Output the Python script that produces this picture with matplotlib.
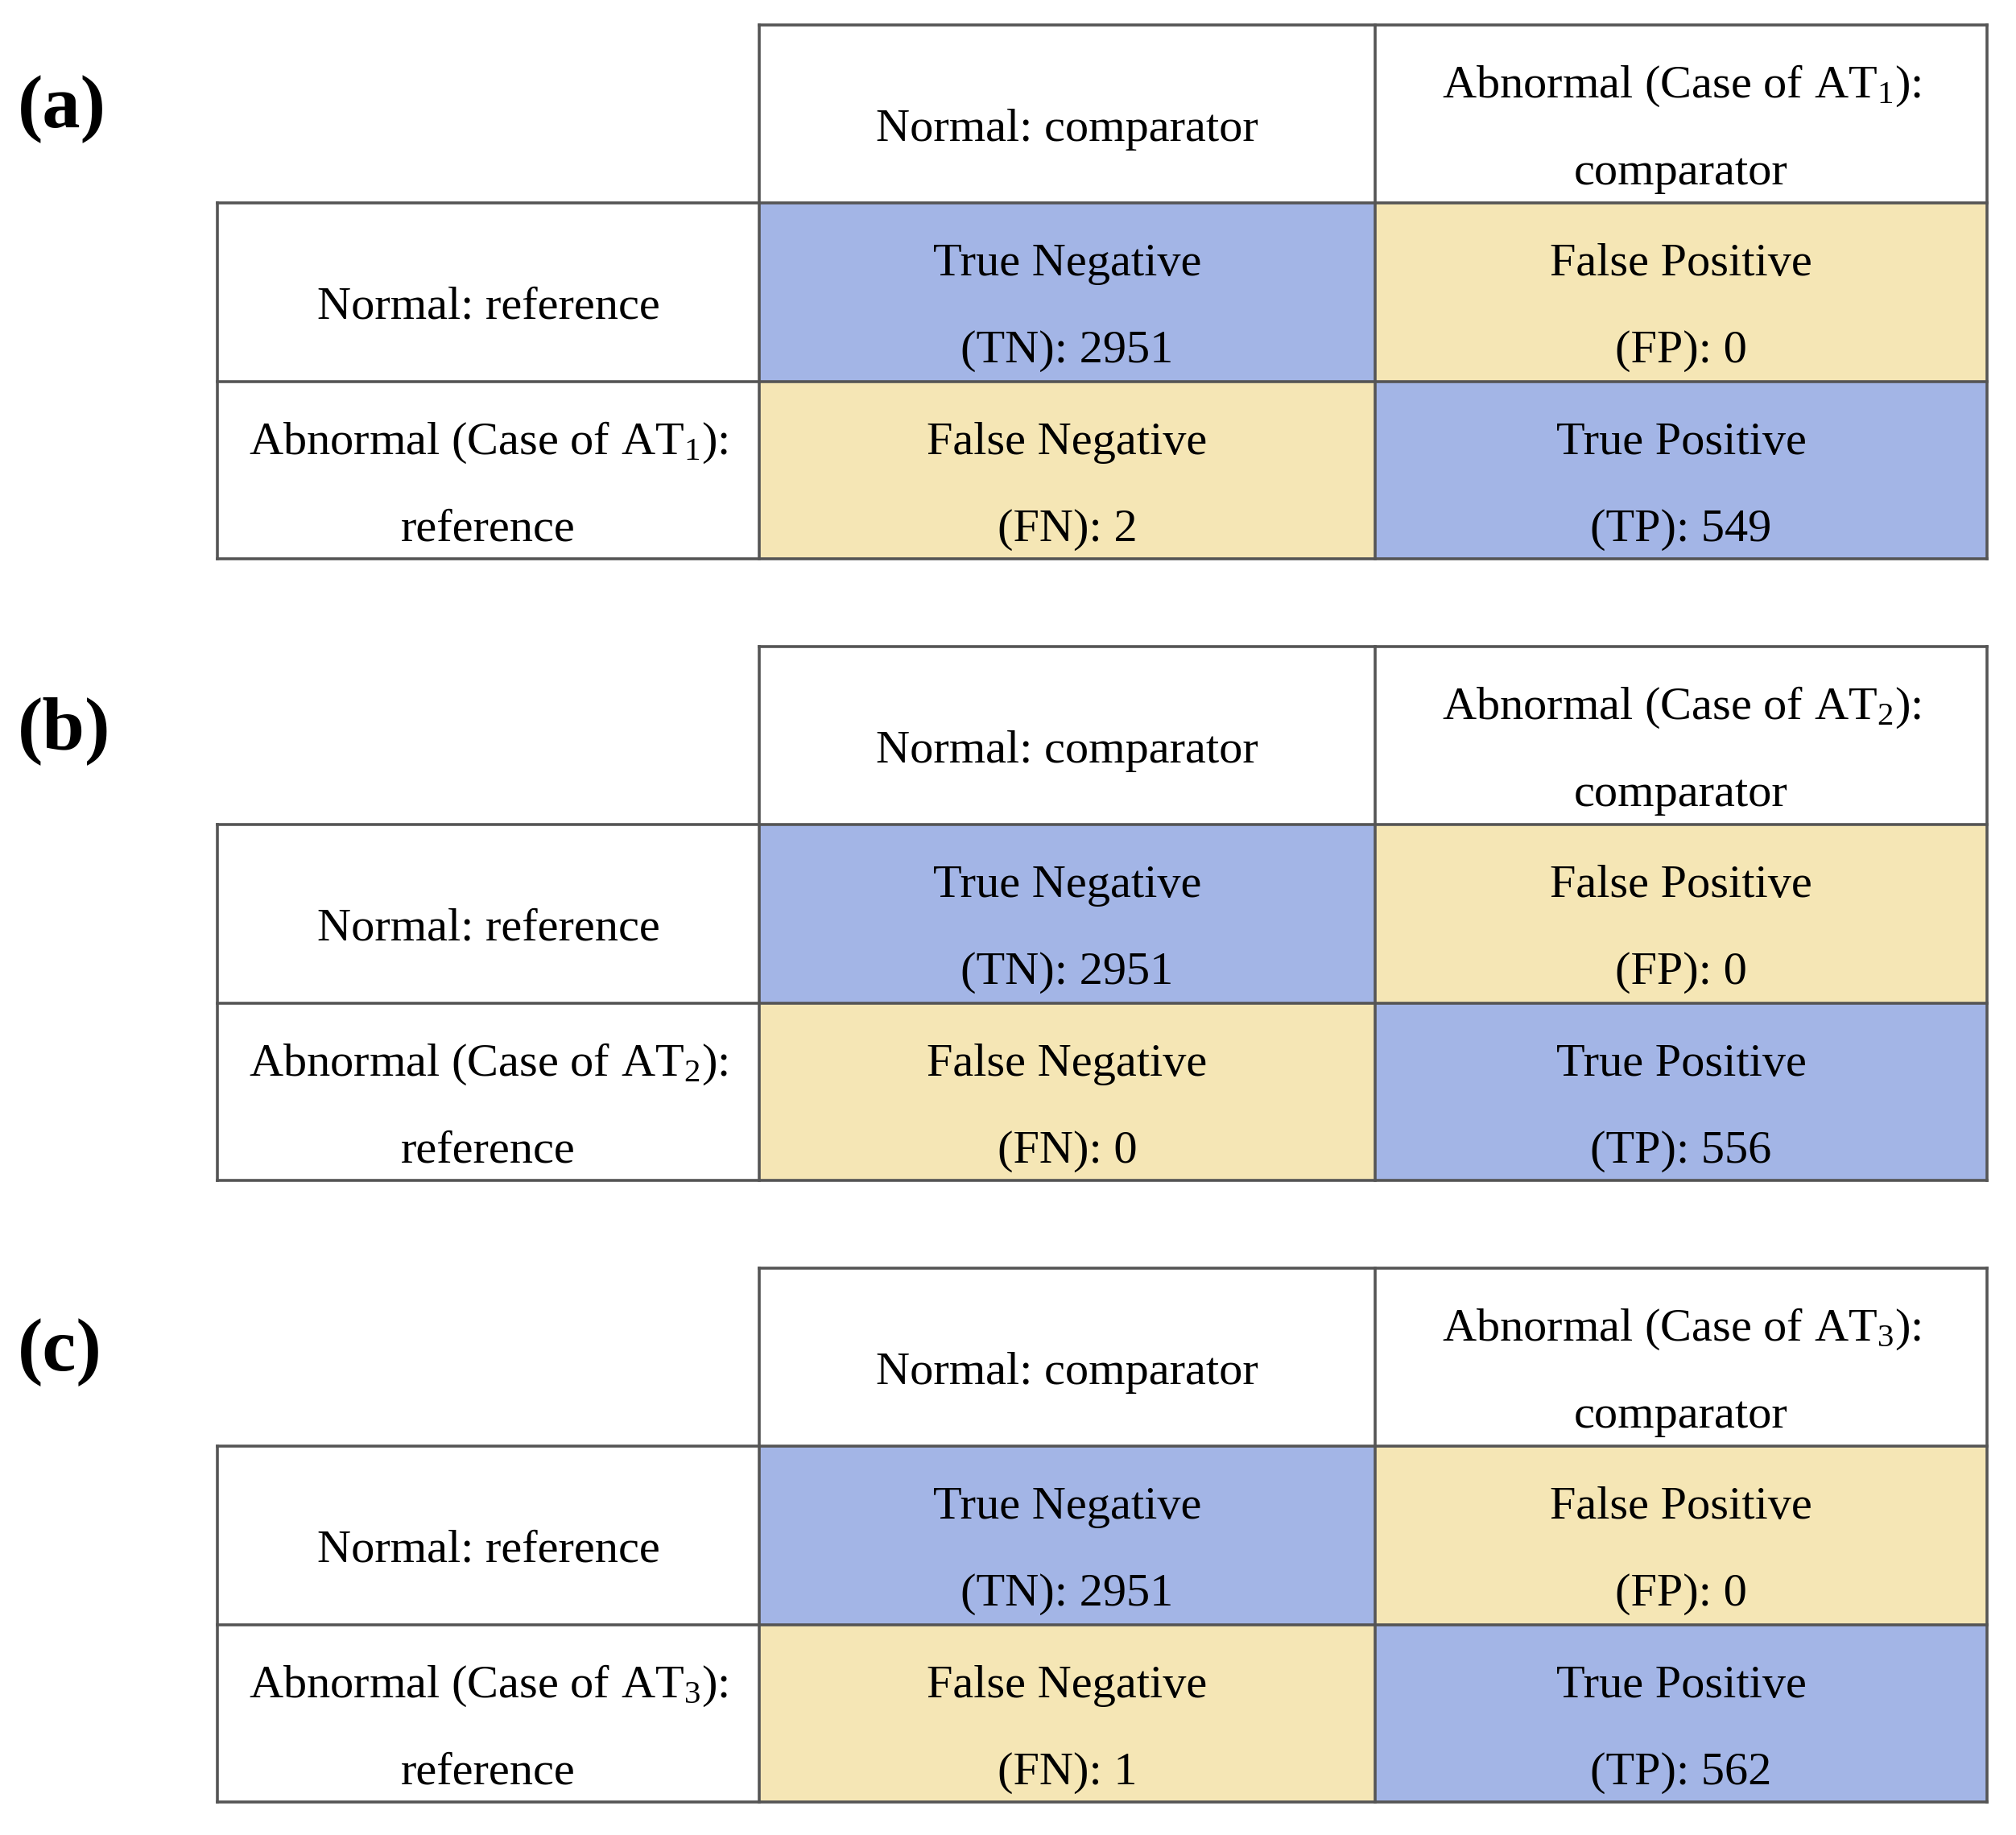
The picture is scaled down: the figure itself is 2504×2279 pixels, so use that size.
import matplotlib
matplotlib.use("Agg")
import matplotlib.pyplot as plt
from matplotlib.patches import Rectangle

# ---------------- data ----------------
panel_labels = ["(a)", "(b)", "(c)"]
case_subscripts = ["1", "2", "3"]
tn_values = [2951, 2951, 2951]
fp_values = [0, 0, 0]
fn_values = [2, 0, 1]
tp_values = [549, 556, 562]
col_header_normal = "Normal: comparator"
row_header_normal = "Normal: reference"
cell_names = [["True Negative", "(TN)"], ["False Positive", "(FP)"],
              ["False Negative", "(FN)"], ["True Positive", "(TP)"]]

# ---------------- style / layout ----------------
plt.rcParams['mathtext.fontset'] = 'custom'
plt.rcParams['mathtext.rm'] = 'Liberation Serif'
plt.rcParams['mathtext.default'] = 'regular'
FONT = 'Liberation Serif'
FS = 42
BLUE = '#A3B5E6'
YELLOW = '#F5E6B5'
LINE = '#555555'
LW = 2.6

W, H = 2504, 2279
fig = plt.figure(figsize=(W / 100, H / 100), dpi=100)
ax = fig.add_axes([0, 0, 1, 1])
ax.set_xlim(0, W)
ax.set_ylim(H, 0)
ax.axis('off')

x_edges = [270, 943, 1708, 2468]
row_h = [221, 222, 220]
panel_top = [31, 803, 1575]


def cell_text(xc, top, lines):
    if len(lines) == 1:
        ax.text(xc, top + 144, lines[0], ha='center', va='baseline',
                fontsize=FS, family=FONT, color='black')
    else:
        for k, ln in enumerate(lines):
            ax.text(xc, top + 90 + 108 * k, ln, ha='center', va='baseline',
                    fontsize=FS, family=FONT, color='black')


for p in range(3):
    y0 = panel_top[p]
    y_edges = [y0, y0 + row_h[0], y0 + row_h[0] + row_h[1],
               y0 + row_h[0] + row_h[1] + row_h[2]]
    sub = case_subscripts[p]
    abn = "Abnormal (Case of AT$_{" + sub + "}$):"

    # colored body cells
    body_colors = [[BLUE, YELLOW], [YELLOW, BLUE]]
    for r in range(2):
        for c in range(2):
            ax.add_patch(Rectangle((x_edges[c + 1], y_edges[r + 1]),
                                   x_edges[c + 2] - x_edges[c + 1],
                                   y_edges[r + 2] - y_edges[r + 1],
                                   facecolor=body_colors[r][c], edgecolor='none', zorder=1))

    # grid lines
    kw = dict(color=LINE, lw=LW, zorder=3, solid_capstyle='projecting')
    # header row
    ax.plot([x_edges[1], x_edges[3]], [y_edges[0], y_edges[0]], **kw)
    for xe in x_edges[1:]:
        ax.plot([xe, xe], [y_edges[0], y_edges[3]], **kw)
    for ye in y_edges[1:]:
        ax.plot([x_edges[0], x_edges[3]], [ye, ye], **kw)
    ax.plot([x_edges[0], x_edges[0]], [y_edges[1], y_edges[3]], **kw)

    # texts
    xc = [(x_edges[i] + x_edges[i + 1]) / 2 for i in range(3)]
    cell_text(xc[1], y_edges[0], [col_header_normal])
    cell_text(xc[2], y_edges[0], [abn, "comparator"])
    cell_text(xc[0], y_edges[1], [row_header_normal])
    cell_text(xc[0], y_edges[2], [abn, "reference"])
    vals = [tn_values[p], fp_values[p], fn_values[p], tp_values[p]]
    pos = [(1, 1), (2, 1), (1, 2), (2, 2)]
    for (name, abbr), v, (ci, ri) in zip(cell_names, vals, pos):
        cell_text(xc[ci], y_edges[ri], [name, f"{abbr}: {v}"])

    ax.text(22, y0 + 127, panel_labels[p], ha='left', va='baseline',
            fontsize=68, family=FONT, fontweight='bold', color='black')

fig.savefig("out.png", dpi=100, facecolor='white')
